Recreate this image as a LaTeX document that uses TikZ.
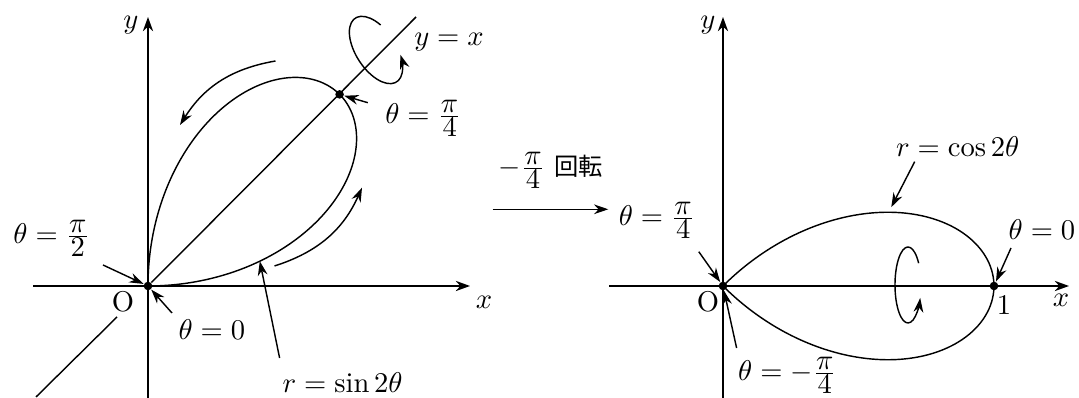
\documentclass[tikz,border=0pt]{standalone}
\usepackage{amsmath}
\usepackage{fontspec}
\newfontfamily\cjk{Noto Sans CJK JP}
\usetikzlibrary{arrows.meta}
\newcommand{\pfrac}[2]{\frac{\textstyle #1}{\textstyle #2}}
\tikzset{axis/.style={-{Stealth[length=5pt,width=3.6pt]},line width=0.6pt},
  curve/.style={line width=0.5pt},
  pointer/.style={-{Stealth[length=5pt,width=3.4pt]},line width=0.5pt},
  spin/.style={-{Stealth[length=5pt,width=3.4pt]},line width=0.5pt},
  dot/.style={circle,fill,inner sep=0pt,minimum size=3pt},
  lab/.style={inner sep=1pt}}

\begin{document}
\begin{tikzpicture}[x=0.35pt,y=0.35pt]
\useasboundingbox (0,0) rectangle (1079,398);
% left: r = sin 2theta
\coordinate (xl1) at (33,112); \coordinate (xr1) at (470,112);
\coordinate (yb1) at (148,0); \coordinate (yt1) at (148,381);
\draw[axis] (xl1) -- (xr1);
\draw[axis] (yb1) -- (yt1);
\node[lab] (xlab1) at (484,96) {$x$};
\node[lab] (ylab1) at (131,373) {$y$};
\node[dot] (O1) at (148,112) {};
\node[dot] (P1) at (339.6,303.6) {};
\node[lab] (olab1) at (123,96) {O};
\coordinate (dl) at (36,1); \coordinate (dm) at (117,81); \coordinate (du) at (416,381);
\draw[curve] (dl) -- (dm);
\draw[curve] (O1) -- (du);
\draw[curve] plot[domain=0:90,samples=120,smooth]
  ({148+271*sin(2*\x)*cos(\x)},{112+271*sin(2*\x)*sin(\x)});
\coordinate (s1) at (275.5,337); \coordinate (e1) at (180,273);
\draw[pointer] (s1) to[bend right=24] (e1);
\coordinate (s2) at (274.5,132); \coordinate (e2) at (362,210.3);
\draw[pointer] (s2) to[bend right=24] (e2);
\draw[spin,shift={(376,348)},rotate=-57] (119:38 and 20)
  arc[start angle=119,end angle=423,x radius=38,y radius=20];
\node[lab] (yx) at (449,356) {$y=x$};
\node[lab] (tq1) at (423.5,280) {$\theta=\pfrac{\pi}{4}$};
\coordinate (aq1) at (367.8,295.3);
\draw[pointer] (aq1) -- (P1);
\node[lab] (th1) at (51.7,160) {$\theta=\pfrac{\pi}{2}$};
\coordinate (ah1) at (103,133);
\draw[pointer] (ah1) -- (O1);
\node[lab] (tz1) at (211.8,68) {$\theta=0$};
\coordinate (az1) at (172,85);
\draw[pointer] (az1) -- (O1);
\node[lab] (rs) at (342.6,15) {$r=\sin2\theta$};
\coordinate (ar1) at (279.6,40);
\coordinate (c1) at ({148+271*sin(25)*cos(12.5)},{112+271*sin(25)*sin(12.5)});
\draw[pointer] (ar1) -- (c1);
% middle
\coordinate (ms) at (492.7,188.7); \coordinate (me) at (608.3,188.7);
\draw[pointer] (ms) -- (me);
\node[lab] (rot) at (551,228) {$-\pfrac{\pi}{4}$ {\cjk\fontsize{8.5}{10}\selectfont 回転}};
% right: r = cos 2theta
\coordinate (xl2) at (609,112); \coordinate (xr2) at (1069,112);
\coordinate (yb2) at (723,0); \coordinate (yt2) at (723,381);
\draw[axis] (xl2) -- (xr2);
\draw[axis] (yb2) -- (yt2);
\node[lab] (xlab2) at (1061,98) {$x$};
\node[lab] (ylab2) at (708,373) {$y$};
\node[dot] (O2) at (723,112) {};
\node[dot] (P2) at (994,112) {};
\node[lab] (olab2) at (708,96) {O};
\node[lab] (one) at (1004,93) {1};
\draw[curve] plot[domain=-45:45,samples=120,smooth]
  ({723+271*cos(2*\x)*cos(\x)},{112+271*cos(2*\x)*sin(\x)});
\draw[spin,shift={(908,113)}] (35:13 and 38)
  arc[start angle=35,end angle=340,x radius=13,y radius=38];
\node[lab] (rc) at (957.7,251.3) {$r=\cos2\theta$};
\coordinate (ar2) at (914.7,236.3);
\coordinate (c2) at ({723+271*cos(48)*cos(24)},{112+271*cos(48)*sin(24)});
\draw[pointer,shorten >=2pt] (ar2) -- (c2);
\node[lab] (tz2) at (1042,168) {$\theta=0$};
\coordinate (az2) at (1011,150);
\draw[pointer] (az2) -- (P2);
\node[lab] (tq2) at (657,178) {$\theta=\pfrac{\pi}{4}$};
\coordinate (aq2) at (698.8,146.3);
\draw[pointer] (aq2) -- (O2);
\node[lab] (tm2) at (787.5,23) {$\theta=-\pfrac{\pi}{4}$};
\coordinate (am2) at (736.6,50);
\draw[pointer] (am2) -- (O2);
\end{tikzpicture}
\end{document}
